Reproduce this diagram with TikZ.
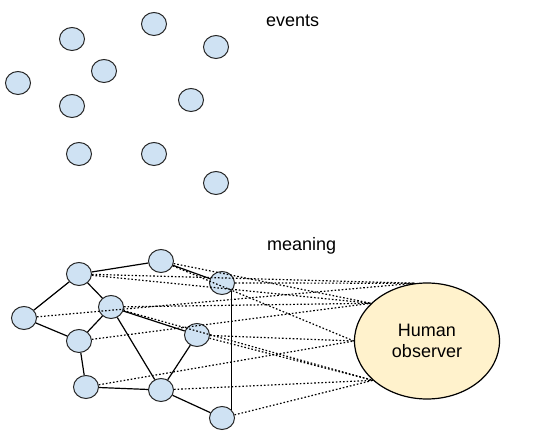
\documentclass[tikz,border=0pt]{standalone}
\usepackage{fontspec}
\setmainfont{Liberation Sans}
\usetikzlibrary{shapes.geometric}
\definecolor{nodeblue}{HTML}{CFE2F3}
\definecolor{obsyellow}{HTML}{FFF2CC}
\begin{document}
\begin{tikzpicture}[x=1pt,y=-1pt,
  dot/.style={ellipse,draw=black!85,fill=nodeblue,line width=1pt,minimum width=25pt,minimum height=23pt,inner sep=0pt},
  solidedge/.style={draw=black,line width=1.2pt},
  dotedge/.style={draw=black,line width=1.2pt,dash pattern=on 1.6pt off 2pt},
  lbl/.style={font=\fontsize{18}{21}\selectfont,inner sep=0pt}]
\useasboundingbox (0,0) rectangle (550,446);
% events
\node[dot] (e1) at (72,39) {};
\node[dot] (e2) at (154,24) {};
\node[dot] (e3) at (216,47) {};
\node[dot] (e4) at (104,71) {};
\node[dot] (e5) at (18,83) {};
\node[dot] (e6) at (72,106) {};
\node[dot] (e7) at (191,100) {};
\node[dot] (e8) at (79,154) {};
\node[dot] (e9) at (154,154) {};
\node[dot] (e10) at (216,183) {};
\node[lbl,anchor=base west] (tev) at (266,27) {events};
\node[lbl,anchor=base west] (tmean) at (267,251) {meaning};
% observer
\node[ellipse,draw=black,line width=1.2pt,fill=obsyellow,minimum width=145pt,minimum height=116pt,inner sep=0pt,align=center,font=\fontsize{18}{20.5}\selectfont] (obs) at (427,341) {Human\\observer};
% meaning network
\node[dot] (A) at (79,274) {};
\node[dot] (B) at (161,261) {};
\node[dot] (C) at (222,283) {};
\node[dot] (D) at (111,307) {};
\node[dot] (E) at (24,318) {};
\node[dot] (F) at (79,341) {};
\node[dot] (G) at (197,335) {};
\node[dot] (H) at (86,387) {};
\node[dot] (I) at (161,390) {};
\node[dot] (J) at (222,418) {};
\coordinate (p1) at (obs.102);
\coordinate (p2) at (obs.146);
\coordinate (p3) at (obs.180);
\coordinate (p4) at (obs.216);
\draw[dotedge] (A) -- (p1);
\draw[dotedge] (A) -- (p2);
\draw[dotedge] (B) -- (p2);
\draw[dotedge] (B) -- (p3);
\draw[dotedge] (C) -- (p1);
\draw[dotedge] (D) -- (p2);
\draw[dotedge] (D) -- (p4);
\draw[dotedge] (E) -- (p1);
\draw[dotedge] (F) -- (p2);
\draw[dotedge] (G) -- (p3);
\draw[dotedge] (G) -- (p4);
\draw[dotedge] (H) -- (p3);
\draw[dotedge] (I) -- (p4);
\draw[dotedge] (J) -- (p4);
\draw[solidedge] (A) -- (B);
\draw[solidedge] (A) -- (E);
\draw[solidedge] (A) -- (D);
\draw[solidedge] (B) -- (C);
\draw[solidedge] (D) -- (F);
\draw[solidedge] (D) -- (G);
\draw[solidedge] (D) -- (I);
\draw[solidedge] (E) -- (F);
\draw[solidedge] (F) -- (H);
\draw[solidedge] (H) -- (I);
\draw[solidedge] (G) -- (I);
\draw[solidedge] (I) -- (J);
\draw[solidedge] (C.-42) -- (J.42);
\end{tikzpicture}
\end{document}
